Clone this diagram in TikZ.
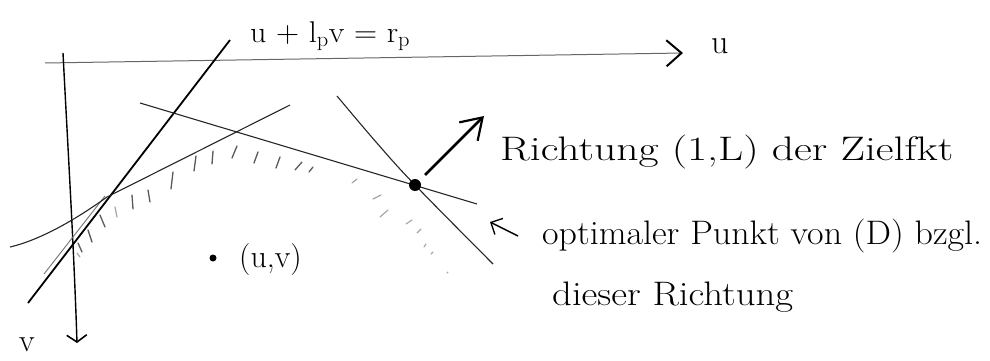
\documentclass[tikz,border=0pt]{standalone}
\usepackage{fontspec}
\usetikzlibrary{arrows.meta}
\begin{document}
\begin{tikzpicture}[x=1pt,y=-1pt,
  axisline/.style={line width=1pt, black!60},
  thinline/.style={line width=1.1pt, black!85},
  thickline/.style={line width=1.8pt, black},
  hatchdark/.style={line width=1.3pt, black!65, line cap=round},
  hatchfaint/.style={line width=1.2pt, black!35, line cap=round},
  txt/.style={inner sep=0pt, anchor=base west},
]
\useasboundingbox (0,0) rectangle (990,361);

% axes
\coordinate (uL) at (45,63);
\coordinate (uR) at (683,53);
\coordinate (vT) at (63,53);
\coordinate (vB) at (77,343);
\draw[axisline, -{Straight Barb[length=15pt,width=26pt,line width=2pt,color=black]}] (uL) -- (uR);
\draw[line width=1.4pt, black, -{Straight Barb[length=7pt,width=20pt,line width=1.6pt]}] (vT) .. controls (68,150) and (74,250) .. (vB);
\node[txt, font=\fontsize{34}{36}\selectfont] (ulab) at (711,53) {u};
\node[txt, font=\fontsize{32}{34}\selectfont] (vlab) at (19,351) {v};

% constraint line u + l_p v = r_p
\coordinate (c1a) at (28,303);
\coordinate (c1b) at (230,40);
\draw[thickline] (c1a) -- (c1b);
\coordinate (c1da) at (44,274);
\coordinate (c1db) at (105,196);
\draw[line width=0.9pt, black!55] (c1da) -- (c1db);
\node[txt, font=\fontsize{30}{32}\selectfont] (eq) at (250,43) {\resizebox{160pt}{\height}{u + l\textsubscript{p}v = r\textsubscript{p}}};

% other constraint lines
\coordinate (c2a) at (10,247);
\coordinate (c2m) at (107,197);
\coordinate (c2b) at (290,105);
\draw[thinline] (c2a) .. controls (40,240) and (75,220) .. (c2m) -- (c2b);

\coordinate (c3a) at (140,103);
\coordinate (c3b) at (477,204);
\draw[thinline] (c3a) -- (c3b);

\coordinate (c4a) at (337,96);
\coordinate (c4b) at (493,264);
\draw[thinline] plot[smooth, tension=0.6] coordinates {(c4a) (376,142) (415,185) (c4b)};

% optimal point and direction
\node[circle, fill=black, minimum size=12pt, inner sep=0pt] (opt) at (415,185) {};
\coordinate (dirtip) at (484,116);
\draw[line width=2.6pt, black, shorten <=8pt, -{Straight Barb[length=20pt,width=26pt,line width=2.2pt]}] (opt) -- (dirtip);

% interior point (u,v)
\node[circle, fill=black, minimum size=7pt, inner sep=0pt] (pt) at (213,258) {};
\node[txt, font=\fontsize{32}{34}\selectfont] (ptlab) at (239,267) {(u,v)};

% hatching
\foreach \xa/\ya/\xb/\yb in {78/243/82/252, 88/230/92/242, 100/215/105/227, 132/195/133/209, 148/190/150/202, 173/172/171/189, 196/156/194/171, 213/151/212/164, 237/146/232/158, 258/152/254/163, 280/157/276/168, 302/162/295/170, 313/167/309/172}
  \draw[hatchdark] (\xa,\ya) -- (\xb,\yb);
\foreach \xa/\ya/\xb/\yb in {115/207/117/217, 77/253/80/257, 352/183/357/179, 373/199/381/195, 380/217/388/210, 406/224/412/220, 417/233/421/229, 424/247/426/244, 431/254/433/252, 447/273/448/272}
  \draw[hatchfaint] (\xa,\ya) -- (\xb,\yb);

% annotations
\node[txt, font=\fontsize{34}{36}\selectfont] (t1) at (500,160) {\resizebox{453pt}{\height}{Richtung (1,L) der Zielfkt}};
\coordinate (pa) at (518,236);
\coordinate (pb) at (490,222);
\draw[line width=1.4pt, black, -{Straight Barb[length=9pt,width=18pt,line width=1.4pt]}] (pa) -- (pb);
\node[txt, font=\fontsize{34}{36}\selectfont] (t2) at (542,244) {\resizebox{440pt}{\height}{optimaler Punkt von (D) bzgl.}};
\node[txt, font=\fontsize{34}{36}\selectfont] (t3) at (552,305) {\resizebox{241pt}{\height}{dieser Richtung}};
\end{tikzpicture}
\end{document}
